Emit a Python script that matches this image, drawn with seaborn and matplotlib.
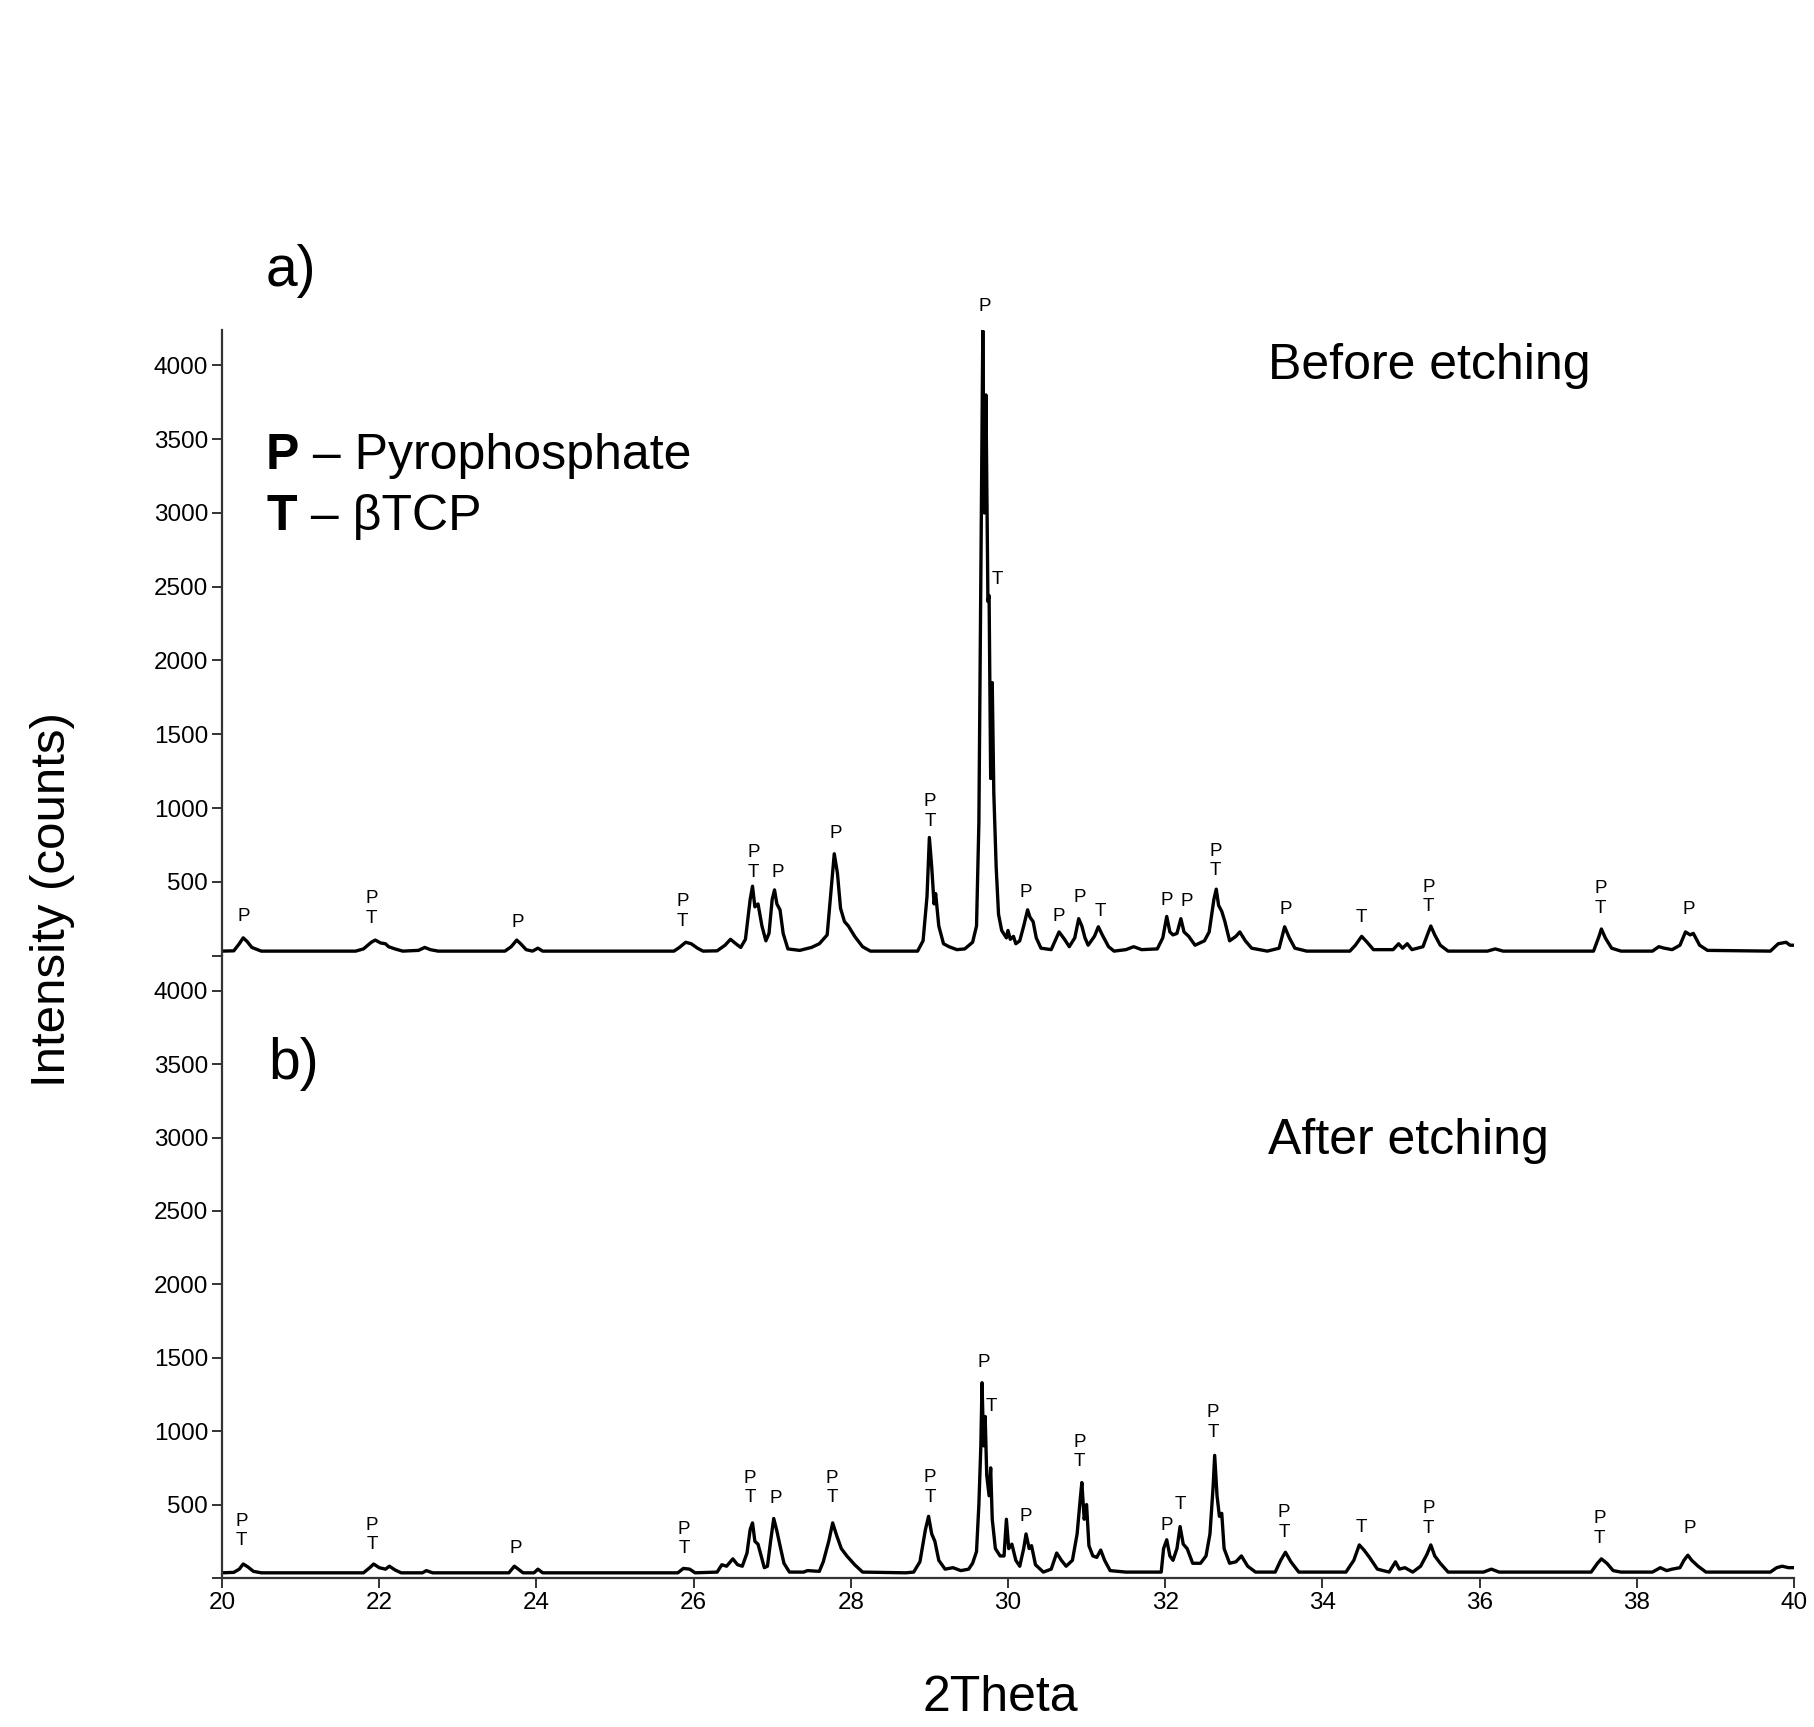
"""XRD patterns before / after etching (P = pyrophosphate, T = beta-TCP)."""
import matplotlib
matplotlib.use('Agg')
import matplotlib.pyplot as plt
import seaborn as sns

# ---- data: (2theta, counts) ----
before_pts = [
    (20.0, 30), (20.15, 32), (20.22, 80), (20.27, 120), (20.32, 95), (20.38, 55), (20.45, 40),
    (20.5, 30), (21.0, 30), (21.7, 30), (21.8, 45), (21.9, 90), (21.95, 105), (22.02, 85),
    (22.08, 80), (22.12, 60), (22.2, 45), (22.3, 30), (22.5, 35), (22.58, 55), (22.65, 40),
    (22.75, 30), (23.6, 30), (23.68, 60), (23.75, 105), (23.8, 80), (23.87, 40), (23.95, 30),
    (24.02, 50), (24.08, 30), (25.75, 30), (25.82, 55), (25.9, 90), (25.97, 80), (26.05, 50),
    (26.12, 30), (26.3, 32), (26.4, 70), (26.47, 110), (26.55, 75), (26.6, 55), (26.66, 110),
    (26.72, 380), (26.75, 470), (26.78, 330), (26.82, 350), (26.87, 200), (26.92, 100),
    (26.96, 150), (27.0, 380), (27.03, 445), (27.06, 350), (27.1, 310), (27.14, 150),
    (27.2, 45), (27.35, 35), (27.5, 55), (27.6, 80), (27.7, 140), (27.75, 450), (27.79, 690),
    (27.83, 560), (27.87, 320), (27.92, 230), (27.97, 200), (28.05, 130), (28.15, 60),
    (28.25, 30), (28.85, 30), (28.92, 100), (28.97, 400), (29.0, 800), (29.03, 600),
    (29.06, 350), (29.08, 420), (29.12, 200), (29.18, 80), (29.25, 60), (29.35, 40),
    (29.45, 45), (29.55, 90), (29.6, 200), (29.63, 900), (29.66, 2850), (29.68, 4235),
    (29.7, 3000), (29.72, 3800), (29.745, 2400), (29.76, 2440), (29.78, 1200), (29.8, 1850),
    (29.82, 1100), (29.85, 600), (29.88, 280), (29.92, 170), (29.98, 120), (30.0, 170),
    (30.03, 110), (30.07, 130), (30.1, 80), (30.15, 100), (30.2, 200), (30.25, 310),
    (30.28, 260), (30.32, 230), (30.36, 120), (30.42, 50), (30.55, 40), (30.6, 100),
    (30.65, 160), (30.72, 110), (30.78, 60), (30.85, 120), (30.9, 250), (30.94, 200),
    (30.98, 120), (31.02, 70), (31.1, 130), (31.15, 195), (31.2, 140), (31.28, 60),
    (31.35, 30), (31.5, 40), (31.6, 60), (31.7, 40), (31.9, 45), (31.97, 120), (32.02, 265),
    (32.06, 160), (32.1, 140), (32.15, 150), (32.2, 250), (32.24, 160), (32.3, 130),
    (32.38, 70), (32.5, 100), (32.56, 160), (32.62, 380), (32.65, 450), (32.68, 340),
    (32.72, 300), (32.76, 230), (32.82, 100), (32.9, 130), (32.95, 160), (33.02, 100),
    (33.1, 50), (33.3, 30), (33.45, 50), (33.52, 195), (33.58, 120), (33.65, 50), (33.8, 30),
    (34.35, 30), (34.42, 70), (34.5, 130), (34.57, 90), (34.65, 40), (34.9, 40), (34.97, 80),
    (35.02, 50), (35.08, 80), (35.14, 40), (35.28, 60), (35.35, 160), (35.38, 200),
    (35.43, 140), (35.5, 70), (35.6, 30), (36.1, 30), (36.2, 45), (36.3, 30), (37.45, 30),
    (37.52, 130), (37.55, 180), (37.6, 120), (37.68, 50), (37.8, 30), (38.2, 30), (38.28, 60),
    (38.35, 50), (38.45, 40), (38.55, 70), (38.62, 160), (38.68, 140), (38.72, 150),
    (38.8, 70), (38.9, 35), (39.7, 30), (39.8, 80), (39.9, 90), (39.95, 70), (40.0, 70),
]

after_pts = [
    (20.0, 35), (20.15, 38), (20.22, 60), (20.27, 95), (20.33, 75), (20.4, 45), (20.5, 35),
    (21.8, 35), (21.88, 70), (21.93, 95), (22.0, 70), (22.08, 60), (22.13, 80), (22.2, 55),
    (22.28, 35), (22.55, 35), (22.6, 50), (22.68, 35), (23.65, 35), (23.72, 80), (23.77, 60),
    (23.83, 35), (23.97, 35), (24.02, 60), (24.08, 35), (25.8, 35), (25.87, 65), (25.95, 60),
    (26.02, 35), (26.3, 40), (26.36, 90), (26.42, 80), (26.5, 130), (26.56, 90), (26.62, 80),
    (26.68, 170), (26.72, 330), (26.75, 375), (26.78, 250), (26.82, 230), (26.85, 170),
    (26.9, 70), (26.94, 80), (26.98, 250), (27.02, 405), (27.06, 320), (27.1, 220),
    (27.15, 100), (27.22, 40), (27.4, 40), (27.45, 50), (27.6, 45), (27.65, 110),
    (27.72, 250), (27.77, 375), (27.82, 290), (27.88, 200), (27.95, 150), (28.05, 90),
    (28.15, 40), (28.7, 35), (28.8, 40), (28.88, 110), (28.95, 330), (28.99, 420),
    (29.03, 300), (29.07, 250), (29.12, 120), (29.2, 60), (29.3, 70), (29.4, 50), (29.5, 60),
    (29.55, 100), (29.6, 180), (29.63, 500), (29.655, 900), (29.67, 1330), (29.69, 900),
    (29.71, 1100), (29.73, 700), (29.76, 560), (29.78, 750), (29.8, 400), (29.84, 200),
    (29.9, 150), (29.95, 150), (29.98, 400), (30.01, 200), (30.05, 230), (30.1, 120),
    (30.15, 80), (30.2, 200), (30.23, 300), (30.27, 200), (30.3, 220), (30.35, 90),
    (30.45, 40), (30.55, 60), (30.62, 170), (30.68, 120), (30.74, 80), (30.82, 120),
    (30.88, 300), (30.92, 540), (30.94, 650), (30.97, 400), (31.0, 500), (31.03, 220),
    (31.08, 150), (31.13, 140), (31.18, 190), (31.23, 120), (31.3, 50), (31.5, 40),
    (31.6, 40), (31.95, 40), (31.98, 200), (32.02, 260), (32.06, 150), (32.1, 120),
    (32.15, 200), (32.19, 350), (32.23, 230), (32.28, 200), (32.35, 100), (32.45, 100),
    (32.52, 150), (32.57, 300), (32.61, 620), (32.63, 835), (32.66, 560), (32.69, 420),
    (32.72, 440), (32.75, 200), (32.82, 100), (32.9, 110), (32.97, 150), (33.05, 80),
    (33.15, 40), (33.4, 40), (33.47, 120), (33.53, 175), (33.6, 110), (33.7, 40), (34.3, 40),
    (34.4, 120), (34.47, 225), (34.53, 190), (34.6, 140), (34.7, 60), (34.85, 40),
    (34.93, 110), (34.98, 60), (35.05, 70), (35.15, 40), (35.25, 80), (35.33, 160),
    (35.38, 225), (35.43, 150), (35.5, 100), (35.6, 40), (36.05, 40), (36.15, 60),
    (36.25, 40), (37.42, 40), (37.5, 100), (37.55, 130), (37.62, 100), (37.7, 50), (37.8, 40),
    (38.2, 40), (38.3, 70), (38.38, 50), (38.45, 60), (38.55, 70), (38.6, 120), (38.65, 155),
    (38.7, 120), (38.78, 80), (38.88, 40), (39.7, 40), (39.78, 70), (39.85, 80), (39.93, 70),
    (40.0, 70),
]

# phase labels: (2theta, counts at label centre, text)
before_labels = [
    (20.28, 265, 'P'), (21.9, 320, 'P\nT'), (23.76, 226, 'P'), (25.86, 300, 'P\nT'),
    (26.76, 630, 'P\nT'), (27.07, 563, 'P'), (27.81, 829, 'P'), (29.01, 978, 'P\nT'),
    (29.71, 4400, 'P'), (29.87, 2552, 'T'), (30.22, 430, 'P'), (30.65, 265, 'P'),
    (30.91, 391, 'P'), (31.18, 297, 'T'), (32.02, 375, 'P'), (32.27, 367, 'P'),
    (32.64, 641, 'P\nT'), (33.53, 312, 'P'), (34.49, 258, 'T'), (35.35, 398, 'P\nT'),
    (37.54, 387, 'P\nT'), (38.66, 312, 'P'),
]
after_labels = [
    (20.25, 320, 'P\nT'), (21.91, 293, 'P\nT'), (23.74, 203, 'P'), (25.88, 265, 'P\nT'),
    (26.72, 614, 'P\nT'), (27.04, 540, 'P'), (27.76, 614, 'P\nT'), (29.01, 618, 'P\nT'),
    (29.69, 1471, 'P'), (29.79, 1166, 'T'), (30.22, 422, 'P'), (30.91, 857, 'P\nT'),
    (32.02, 359, 'P'), (32.19, 500, 'T'), (32.61, 1060, 'P\nT'), (33.51, 379, 'P\nT'),
    (34.49, 344, 'T'), (35.35, 406, 'P\nT'), (37.53, 336, 'P\nT'), (38.67, 336, 'P'),
]

y_ticks = [0, 500, 1000, 1500, 2000, 2500, 3000, 3500, 4000]
x_ticks = [20, 22, 24, 26, 28, 30, 32, 34, 36, 38, 40]

sns.set_theme(style='ticks')
plt.rcParams['font.family'] = ['Liberation Sans', 'DejaVu Sans']
plt.rcParams['text.color'] = 'black'

fig = plt.figure(figsize=(18.15, 17.27), dpi=100)
ax_top = fig.add_axes([0.1223, 0.4467, 0.8661, 0.3622])
ax_bot = fig.add_axes([0.1223, 0.0863, 0.8661, 0.3604])


def draw_panel(ax, pts, labels):
    xs = [p[0] for p in pts]
    ys = [p[1] for p in pts]
    sns.lineplot(x=xs, y=ys, ax=ax, color='black', lw=2.4, sort=False, estimator=None)
    for x, y, t in labels:
        ax.text(x, y, t, ha='center', va='center', fontsize=13.5, linespacing=1.2,
                color='black', clip_on=False)
    ax.set_xlim(20, 40)
    ax.set_ylim(0, 4240)
    ax.set_yticks(y_ticks)
    ax.set_yticklabels([''] + [str(v) for v in y_ticks[1:]])
    ax.set_xlabel('')
    ax.set_ylabel('')
    for s in ['top', 'right']:
        ax.spines[s].set_visible(False)
    for s in ['left', 'bottom']:
        ax.spines[s].set_color('#333333')
        ax.spines[s].set_linewidth(1.6)
    ax.tick_params(direction='out', length=7, width=1.4, color='#333333',
                   labelsize=17.5, pad=3, labelcolor='black')


draw_panel(ax_top, before_pts, before_labels)
draw_panel(ax_bot, after_pts, after_labels)

ax_top.spines['bottom'].set_visible(False)
ax_top.set_xticks([])
ax_bot.set_xticks(x_ticks)
ax_bot.set_xticklabels([str(v) for v in x_ticks])

# panel letters and titles
fig.text(0.1466, 0.8344, 'a)', fontsize=41, va='baseline')
fig.text(0.1479, 0.3753, 'b)', fontsize=41, va='baseline')
fig.text(0.6984, 0.7808, 'Before etching', fontsize=36, va='baseline')
fig.text(0.6984, 0.3318, 'After etching', fontsize=36, va='baseline')

# phase key
for yk, key, name in [(0.7285, 'P', ' \u2013 Pyrophosphate'), (0.6931, 'T', ' \u2013 \u03b2TCP')]:
    k = fig.text(0.1466, yk, key, fontsize=36, fontweight='bold', va='baseline')
    ax_top.annotate(name, xy=(1, 0), xycoords=k, fontsize=36, va='bottom', ha='left')

fig.text(0.0287, 0.4794, 'Intensity (counts)', fontsize=35.5, rotation=90,
         ha='center', va='center')
fig.text(0.551, 0.009, '2Theta', fontsize=36, ha='center', va='baseline')

fig.savefig('out.png', dpi=100)
plt.close(fig)
